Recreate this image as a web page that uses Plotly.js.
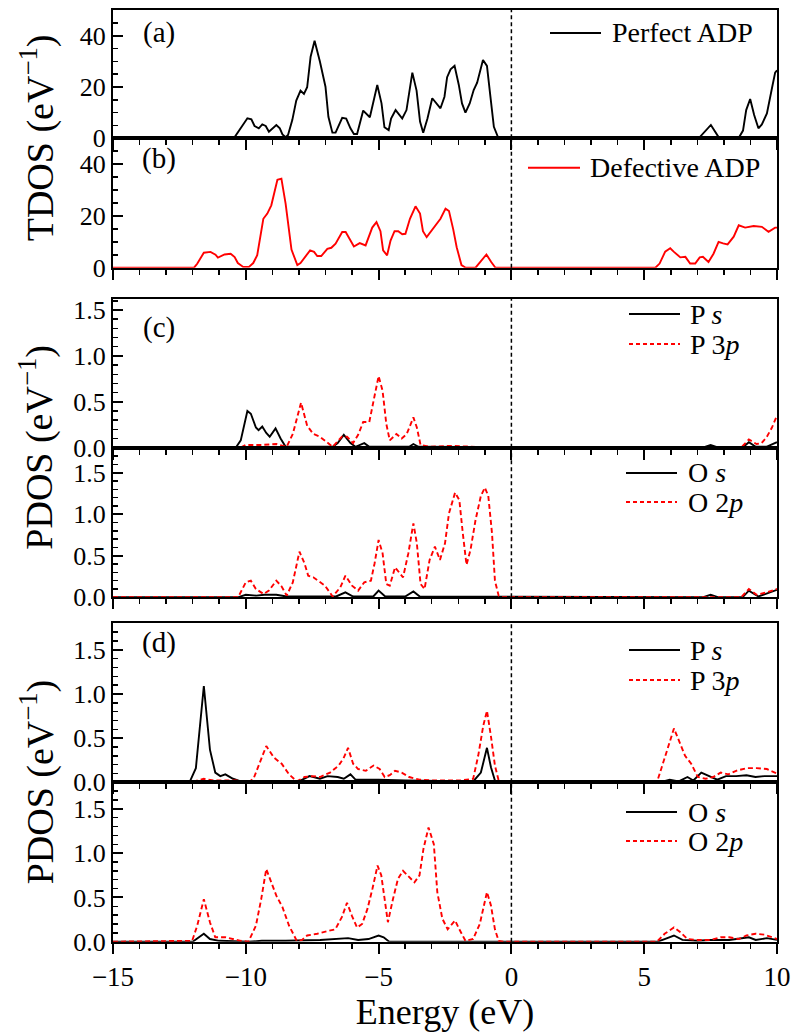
<!DOCTYPE html>
<html><head><meta charset="utf-8">
<script src="https://cdn.plot.ly/plotly-3.0.1.min.js"></script>
<style>body{margin:0;background:#fff}#chart{width:800px;height:1034px}</style>
</head><body><div id="chart"></div>
<script>
// ---------------- data (energy in eV, DOS values) ----------------
const perfectE = [-15,-10.45,-9.94,-9.79,-9.67,-9.51,-9.38,-9.25,-9.13,-8.85,-8.72,-8.62,-8.50,-8.41,-8.25,-8.10,-7.94,-7.81,-7.69,-7.56,-7.41,-7.21,-7.00,-6.89,-6.74,-6.62,-6.37,-6.22,-6.06,-5.93,-5.81,-5.58,-5.33,-5.05,-4.89,-4.78,-4.62,-4.53,-4.36,-4.11,-3.95,-3.73,-3.57,-3.44,-3.32,-3.16,-2.98,-2.67,-2.52,-2.42,-2.29,-2.14,-1.98,-1.86,-1.73,-1.57,-1.42,-1.29,-1.07,-0.92,-0.79,-0.66,-0.51,-0.44,7.05,7.51,7.80,7.85,8.55,8.72,8.84,8.99,9.14,9.30,9.43,9.62,9.81,9.93,10];
const perfectTDOS = [0,0,7.8,7.4,4.8,3.9,5.4,4.8,2.6,5.2,3.9,1.5,0.4,1.3,7.1,14.7,18.6,17.3,19.9,31.8,38.0,29.9,20.1,8.4,2.2,2.2,8.0,7.7,3.9,1.7,1.7,10.8,8.2,20.8,13.6,4.3,3.2,7.7,11.0,7.7,11.0,25.6,18.6,6.5,2.2,7.7,15.6,11.7,16.2,23.8,26.9,28.3,20.8,13.6,10.0,13.6,18.8,21.7,30.5,28.2,16.2,4.5,0.6,0,0,5.2,0.5,0,0,3.0,11.0,15.3,9.1,3.9,5.4,9.7,19.5,25.6,26.5];

const defectE = [-15,-11.95,-11.83,-11.58,-11.33,-11.14,-11.05,-10.80,-10.57,-10.42,-10.30,-10.10,-9.88,-9.72,-9.57,-9.34,-9.19,-9.04,-8.81,-8.66,-8.50,-8.37,-8.28,-8.06,-7.94,-7.58,-7.43,-7.31,-7.16,-6.93,-6.78,-6.62,-6.37,-6.24,-6.12,-5.93,-5.71,-5.49,-5.24,-5.08,-4.93,-4.83,-4.68,-4.55,-4.40,-4.26,-4.11,-3.99,-3.82,-3.61,-3.44,-3.33,-3.19,-2.91,-2.67,-2.48,-2.35,-2.19,-2.06,-1.88,-1.72,-1.35,-1.17,-0.94,-0.76,-0.60,5.42,5.58,5.79,5.98,6.11,6.36,6.55,6.73,6.92,7.09,7.21,7.42,7.61,7.80,7.97,8.14,8.37,8.56,8.80,9.12,9.43,9.68,9.93,10];
const defectTDOS = [0,0,1.5,5.8,6.1,5.0,3.9,5.1,5.4,4.1,1.8,0.3,0.3,1.8,4.8,18.9,20.9,24.1,34.0,34.4,24.7,14.4,7.0,1.0,1.8,6.7,6.1,4.5,4.5,7.3,7.7,9.3,13.8,13.8,11.6,8.2,9.5,8.6,15.5,17.6,14.1,6.7,4.8,10.5,14.1,14.1,12.9,13.1,18.9,23.7,20.9,14.1,11.8,15.5,18.9,22.8,21.9,14.8,7.9,1.0,0,0,2.2,5.1,2.2,0,0,1.6,6.2,7.5,6.2,4.0,4.2,1.6,1.6,4.0,4.2,2.2,5.4,10.0,9.4,9.0,12.0,16.4,15.5,16.1,15.8,13.9,15.5,15.5];

// (c) perfect ADP PDOS
const cPsE = [-15,-10.38,-10.19,-9.94,-9.81,-9.62,-9.52,-9.38,-9.23,-9.10,-8.88,-8.69,-8.50,-8.30,-6.73,-6.54,-6.31,-6.06,-5.87,-5.54,-5.35,-3.85,-3.69,-3.50,7.20,7.50,7.80,8.70,8.94,9.20,9.60,10];
const cPs  = [0,0,0.08,0.40,0.37,0.22,0.19,0.23,0.16,0.12,0.21,0.10,0.01,0.01,0.01,0.05,0.14,0.05,0.01,0.05,0.01,0.01,0.04,0.01,0,0.03,0,0,0.06,0.01,0.01,0.06];
const cP3pE = [-15,-10.2,-10.0,-9.4,-8.85,-8.46,-8.23,-8.08,-7.92,-7.69,-7.46,-7.21,-6.92,-6.73,-6.38,-6.19,-5.96,-5.77,-5.58,-5.35,-5.19,-5.00,-4.85,-4.71,-4.58,-4.33,-4.13,-3.94,-3.69,-3.56,-3.42,-3.08,-2.31,-1.5,-0.5,8.65,8.94,9.23,9.42,9.62,9.81,10];
const cP3p  = [0,0,0.03,0.03,0.04,0.01,0.15,0.33,0.49,0.24,0.15,0.12,0.05,0.01,0.12,0.12,0.05,0.14,0.28,0.28,0.51,0.78,0.62,0.26,0.08,0.15,0.10,0.15,0.33,0.22,0.03,0.01,0.02,0.01,0,0,0.09,0.04,0.05,0.12,0.22,0.35];
const cOsE = [-15,-10.3,-10.0,-9.6,-9.3,-8.85,-8.46,-7.5,-6.6,-6.25,-5.96,-5.2,-5.0,-4.75,-4.0,-3.69,-3.45,7.2,7.5,7.8,8.7,8.94,9.3,10];
const cOs  = [0,0,0.03,0.02,0.03,0.03,0.01,0.01,0.01,0.06,0.01,0.01,0.08,0.01,0.01,0.07,0.01,0,0.03,0,0,0.08,0.01,0.09];
const cO2pE = [-15,-10.29,-10.0,-9.81,-9.62,-9.33,-9.13,-8.85,-8.65,-8.46,-8.23,-7.98,-7.79,-7.65,-7.46,-7.21,-7.02,-6.73,-6.44,-6.25,-6.0,-5.77,-5.54,-5.29,-5.15,-5.0,-4.85,-4.71,-4.58,-4.38,-4.27,-4.08,-3.88,-3.69,-3.56,-3.42,-3.27,-3.08,-2.88,-2.69,-2.5,-2.35,-2.12,-1.96,-1.83,-1.69,-1.54,-1.35,-1.15,-1.0,-0.87,-0.73,-0.62,-0.48,-0.3,8.65,8.94,9.23,9.62,10];
const cO2p  = [0,0,0.18,0.20,0.10,0.04,0.08,0.20,0.13,0.02,0.18,0.55,0.41,0.26,0.24,0.18,0.14,0.01,0.12,0.26,0.14,0.08,0.18,0.20,0.41,0.69,0.53,0.16,0.14,0.36,0.32,0.24,0.53,0.89,0.65,0.16,0.10,0.45,0.61,0.45,0.65,1.01,1.26,1.17,0.77,0.39,0.57,0.93,1.22,1.32,1.22,0.77,0.20,0.02,0,0,0.10,0.03,0.06,0.10];

// (d) defective ADP PDOS
const dPsE = [-15,-12.12,-11.88,-11.58,-11.35,-11.15,-10.96,-10.77,-10.48,-10.19,-9.9,-8.0,-7.6,-7.21,-6.92,-6.54,-6.31,-6.06,-5.87,-5.0,-4.0,-1.44,-1.15,-0.92,-0.77,-0.62,-0.48,5.58,5.96,6.3,6.63,6.85,7.15,7.5,7.75,8.08,8.46,8.85,9.19,9.52,10];
const dPs  = [0,0,0.16,1.09,0.37,0.11,0.07,0.09,0.04,0.01,0,0.01,0.07,0.04,0.07,0.06,0.04,0.09,0.03,0.03,0.02,0.01,0.11,0.39,0.17,0.02,0,0,0.03,0.01,0.06,0.02,0.11,0.06,0.03,0.07,0.07,0.08,0.06,0.07,0.07];
const dP3pE = [-15,-12.1,-11.58,-11.2,-10.3,-9.9,-9.71,-9.52,-9.23,-8.94,-8.65,-8.37,-8.08,-7.79,-7.5,-7.21,-6.83,-6.5,-6.31,-6.15,-5.96,-5.77,-5.48,-5.19,-4.96,-4.77,-4.58,-4.38,-4.13,-3.85,-3.46,-2.88,-1.92,-1.44,-1.25,-1.06,-0.92,-0.77,-0.62,-0.48,-0.3,5.48,5.67,5.87,6.12,6.35,6.54,6.77,7.02,7.31,7.6,7.88,8.17,8.46,8.85,9.23,9.62,10];
const dP3p  = [0,0,0.04,0.02,0.02,0,0.04,0.19,0.41,0.28,0.21,0.09,0.01,0.06,0.07,0.06,0.11,0.19,0.28,0.39,0.21,0.15,0.13,0.19,0.15,0.06,0.08,0.13,0.11,0.06,0.03,0.02,0.02,0.04,0.30,0.64,0.81,0.52,0.19,0.02,0,0,0.19,0.37,0.61,0.45,0.30,0.21,0.06,0.04,0.06,0.11,0.09,0.13,0.16,0.16,0.15,0.10];
const dOsE = [-15,-12.0,-11.58,-11.35,-11.0,-9.9,-9.4,-8.5,-7.2,-6.54,-6.15,-5.77,-5.38,-5.0,-4.81,-4.6,5.5,5.77,6.12,6.44,7.0,7.5,8.2,8.94,9.2,9.62,10];
const dOs  = [0,0,0.09,0.03,0.01,0,0.01,0.01,0.02,0.03,0.04,0.02,0.03,0.07,0.05,0,0,0.03,0.07,0.02,0.01,0.02,0.02,0.05,0.02,0.04,0.02];
const dO2pE = [-15,-12.02,-11.83,-11.58,-11.35,-11.15,-10.77,-10.48,-10.19,-9.9,-9.62,-9.42,-9.23,-9.04,-8.85,-8.62,-8.37,-8.08,-7.88,-7.69,-7.31,-6.92,-6.63,-6.38,-6.19,-6.0,-5.81,-5.62,-5.42,-5.23,-5.04,-4.9,-4.77,-4.65,-4.46,-4.27,-4.08,-3.85,-3.65,-3.46,-3.31,-3.12,-2.92,-2.79,-2.6,-2.4,-2.12,-1.96,-1.73,-1.44,-1.19,-0.92,-0.77,-0.62,-0.48,-0.3,5.48,5.77,6.12,6.35,6.63,7.0,7.5,7.88,8.2,8.56,8.85,9.19,9.52,9.81,10];
const dO2p  = [0,0.01,0.18,0.48,0.22,0.05,0.05,0.03,0.01,0,0.18,0.48,0.82,0.67,0.52,0.39,0.18,0.01,0.02,0.07,0.09,0.12,0.14,0.28,0.44,0.29,0.16,0.20,0.37,0.60,0.86,0.75,0.44,0.22,0.48,0.71,0.80,0.73,0.67,0.75,1.05,1.29,1.10,0.56,0.26,0.14,0.24,0.14,0.01,0.03,0.20,0.56,0.41,0.14,0.01,0,0,0.09,0.16,0.11,0.03,0.02,0.02,0.05,0.05,0.03,0.07,0.09,0.08,0.05,0.03];

// text
const panelLabels = ['(a)', '(b)', '(c)', '(d)'];
const legendA = ['Perfect ADP'];
const legendB = ['Defective ADP'];
const legendP = ['P <i>s</i>', 'P 3<i>p</i>'];
const legendO = ['O <i>s</i>', 'O 2<i>p</i>'];
const yTitleTDOS = 'TDOS (eV<sup>\u22121</sup>)';
const yTitlePDOS = 'PDOS (eV<sup>\u22121</sup>)';
const xTitle = 'Energy (eV)';

// ---------------- layout helpers ----------------
const W = 800, H = 1034;
const FONT = '"Liberation Serif", "DejaVu Serif", serif';
const px = p => p / W;
const py = p => 1 - p / H;
const xDom = [px(113), px(777)];
const panelPix = [[10,138.3],[138.3,267.7],[299,447.7],[447.7,597.3],[623.3,782.3],[782.3,941.7]];
const yRanges = [[0,50],[0,50],[0,1.62],[0,1.8],[0,1.8],[0,1.8]];
const RED = '#ff0000', BLACK = '#000000';

const layout = {
  width: W, height: H,
  margin: {l:0, r:0, t:0, b:0},
  paper_bgcolor: '#fff', plot_bgcolor: '#fff',
  showlegend: false,
  font: {family: FONT, color: '#000'},
  shapes: [], annotations: []
};

panelPix.forEach((pp, i) => {
  const n = i === 0 ? '' : String(i + 1);
  const tdos = i < 2;
  layout['xaxis' + n] = {
    domain: xDom, anchor: 'y' + n, range: [-15, 10],
    tick0: 0, dtick: 5, ticks: 'outside', ticklen: 10, tickwidth: 2, tickcolor: '#000',
    minor: {dtick: 1, ticks: 'outside', ticklen: 5, tickwidth: 1.5, tickcolor: '#000'},
    showline: true, linewidth: 2, linecolor: '#000', mirror: true,
    showgrid: false, zeroline: false,
    showticklabels: i === 5,
    tickfont: {family: FONT, size: 27, color: '#000'}
  };
  if (i === 5) {
    layout['xaxis' + n].title = {text: xTitle, font: {family: FONT, size: 36, color: '#000'}, standoff: 0};
  }
  layout['yaxis' + n] = {
    domain: [py(pp[1]), py(pp[0])], anchor: 'x' + n, range: yRanges[i],
    tick0: 0, dtick: tdos ? 20 : 0.5, tickformat: tdos ? 'd' : '.1f',
    ticks: 'inside', ticklen: 10, tickwidth: 2, tickcolor: '#000',
    minor: {dtick: tdos ? 5 : 0.1, ticks: 'inside', ticklen: 5, tickwidth: 1.5, tickcolor: '#000'},
    showline: true, linewidth: 2, linecolor: '#000', mirror: true,
    showgrid: false, zeroline: false,
    tickfont: {family: FONT, size: 26, color: '#000'}
  };
  layout.shapes.push({type: 'line', xref: 'x' + n, yref: 'y' + n + ' domain',
    x0: 0, x1: 0, y0: 0, y1: 1, line: {color: '#000', width: 1.5, dash: '4px,3px'}});
});

const traces = [];
function addLine(xs, ys, i, color, dash) {
  const n = i === 0 ? '' : String(i + 1);
  traces.push({x: xs, y: ys, xaxis: 'x' + n, yaxis: 'y' + n, type: 'scatter', mode: 'lines',
    line: {color: color, width: 1.9, dash: dash || 'solid'}, hoverinfo: 'skip'});
}
const DASH = '5px,3px';
addLine(perfectE, perfectTDOS, 0, BLACK);
addLine(defectE, defectTDOS, 1, RED);
addLine(cPsE, cPs, 2, BLACK);
addLine(cP3pE, cP3p, 2, RED, DASH);
addLine(cOsE, cOs, 3, BLACK);
addLine(cO2pE, cO2p, 3, RED, DASH);
addLine(dPsE, dPs, 4, BLACK);
addLine(dP3pE, dP3p, 4, RED, DASH);
addLine(dOsE, dOs, 5, BLACK);
addLine(dO2pE, dO2p, 5, RED, DASH);

function legendItem(x0, x1, y, textX, label, color, dash) {
  layout.shapes.push({type: 'line', xref: 'paper', yref: 'paper', x0: px(x0), x1: px(x1), y0: py(y), y1: py(y),
    line: {color: color, width: 2, dash: dash || 'solid'}});
  layout.annotations.push({xref: 'paper', yref: 'paper', x: px(textX), y: py(y), xanchor: 'left', yanchor: 'middle',
    text: label, showarrow: false, font: {family: FONT, size: 28, color: '#000'}});
}
legendItem(550, 601, 33, 610, legendA[0], BLACK);
legendItem(528, 580, 167.7, 588, legendB[0], RED);
legendItem(629, 680, 314, 688, legendP[0], BLACK);
legendItem(629, 680, 344, 688, legendP[1], RED, '4px,3px');
legendItem(626, 677, 473, 686, legendO[0], BLACK);
legendItem(626, 677, 502, 686, legendO[1], RED, '4px,3px');
legendItem(629, 680, 650, 688, legendP[0], BLACK);
legendItem(629, 680, 680, 688, legendP[1], RED, '4px,3px');
legendItem(626, 677, 812, 686, legendO[0], BLACK);
legendItem(626, 677, 841, 686, legendO[1], RED, '4px,3px');

[[33, 0], [159, 1], [327, 2], [642, 3]].forEach(([y, k]) => {
  layout.annotations.push({xref: 'paper', yref: 'paper', x: px(159), y: py(y), xanchor: 'center', yanchor: 'middle',
    text: panelLabels[k], showarrow: false, font: {family: FONT, size: 29, color: '#000'}});
});

[[138.3, yTitleTDOS], [447.7, yTitlePDOS], [782.3, yTitlePDOS]].forEach(([y, t]) => {
  layout.annotations.push({xref: 'paper', yref: 'paper', x: px(37), y: py(y), xanchor: 'center', yanchor: 'middle',
    text: t, textangle: -90, showarrow: false, font: {family: FONT, size: 38, color: '#000'}});
});

Plotly.newPlot('chart', traces, layout, {staticPlot: true, displayModeBar: false});
</script>
</body></html>
